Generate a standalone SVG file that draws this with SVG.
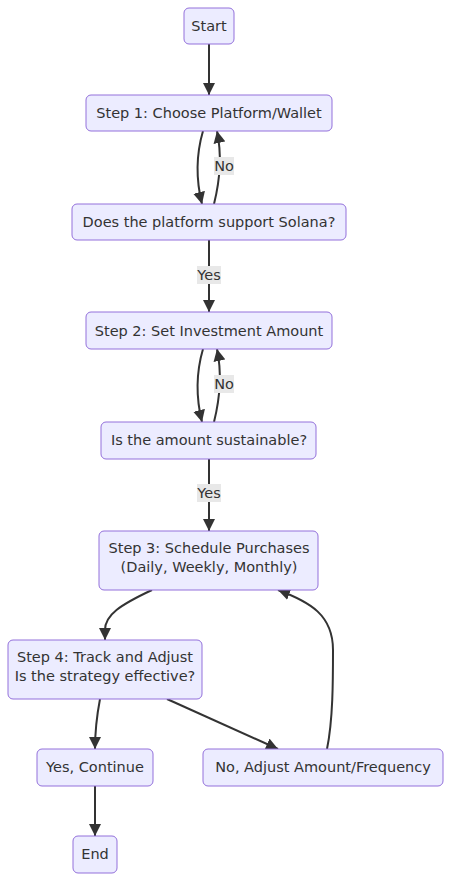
<svg xmlns="http://www.w3.org/2000/svg" width="451" height="881" viewBox="0 0 451 881">
<style>
.node rect{fill:#ECECFF;stroke:#9370DB;stroke-width:1}
text{font-family:"DejaVu Sans","Open Sans",sans-serif;font-size:14.5px;fill:#333;text-anchor:middle;dominant-baseline:central}
.edge{fill:none;stroke:#333;stroke-width:2}
.lbl rect{fill:#e8e8e8}
</style>
<defs>
<marker id="arr" viewBox="0 0 10 10" refX="10" refY="5" markerUnits="userSpaceOnUse" markerWidth="12" markerHeight="12" orient="auto">
<path d="M0,0 L10,5 L0,10 z" fill="#333"/>
</marker>
</defs>
<g id="connectors">
<path class="edge" marker-end="url(#arr)" d="M209,44 L209,95"/>
<path class="edge" marker-end="url(#arr)" d="M203,131 C196,155 196,180 202,204"/>
<path class="edge" marker-end="url(#arr)" d="M214,204 C220,180 222,155 217,131"/>
<path class="edge" marker-end="url(#arr)" d="M209,240 L209,312"/>
<path class="edge" marker-end="url(#arr)" d="M203,349 C196,373 196,398 202,422"/>
<path class="edge" marker-end="url(#arr)" d="M214,422 C220,398 222,373 217,349"/>
<path class="edge" marker-end="url(#arr)" d="M209,459 L209,531"/>
<path class="edge" marker-end="url(#arr)" d="M152,590 C120,605 105,615 105,630 L105,640"/>
<path class="edge" marker-end="url(#arr)" d="M100,699 C96,720 95,730 95,749"/>
<path class="edge" marker-end="url(#arr)" d="M167,699 L278,749"/>
<path class="edge" marker-end="url(#arr)" d="M327,749 C333,720 333,680 333,650 C333,615 310,602 278,590"/>
<path class="edge" marker-end="url(#arr)" d="M95,786 L95,836"/>
<g class="lbl"><rect x="214" y="157" width="20" height="18"/><text x="224" y="166">No</text></g>
<g class="lbl"><rect x="197" y="266" width="24" height="18"/><text x="209" y="275">Yes</text></g>
<g class="lbl"><rect x="214" y="375" width="20" height="18"/><text x="224" y="384">No</text></g>
<g class="lbl"><rect x="197" y="484" width="24" height="18"/><text x="209" y="493">Yes</text></g>
</g>
<g id="start" class="node"><rect x="184" y="8" width="50" height="36" rx="5"/><text x="209" y="26">Start</text></g>
<g id="step1" class="node"><rect x="86" y="95" width="246" height="36" rx="5"/><text x="209" y="113">Step 1: Choose Platform/Wallet</text></g>
<g id="q1" class="node"><rect x="72" y="204" width="274" height="36" rx="5"/><text x="209" y="222">Does the platform support Solana?</text></g>
<g id="step2" class="node"><rect x="86" y="312" width="246" height="37" rx="5"/><text x="209" y="331">Step 2: Set Investment Amount</text></g>
<g id="q2" class="node"><rect x="101" y="422" width="215" height="37" rx="5"/><text x="209" y="440">Is the amount sustainable?</text></g>
<g id="step3" class="node"><rect x="99" y="531" width="219" height="59" rx="5"/><text x="209" y="548">Step 3: Schedule Purchases</text><text x="209" y="567">(Daily, Weekly, Monthly)</text></g>
<g id="step4" class="node"><rect x="8" y="640" width="194" height="59" rx="5"/><text x="105" y="657">Step 4: Track and Adjust</text><text x="105" y="676">Is the strategy effective?</text></g>
<g id="yes" class="node"><rect x="37" y="749" width="116" height="37" rx="5"/><text x="95" y="767">Yes, Continue</text></g>
<g id="no" class="node"><rect x="203" y="749" width="240" height="37" rx="5"/><text x="323" y="767">No, Adjust Amount/Frequency</text></g>
<g id="end" class="node"><rect x="73" y="836" width="44" height="37" rx="5"/><text x="95" y="854">End</text></g>
</svg>
